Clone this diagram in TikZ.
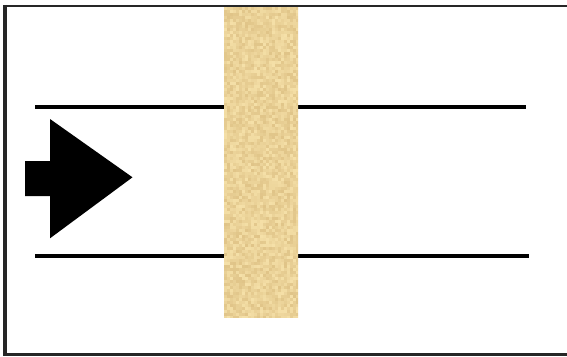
\documentclass[tikz,border=0pt]{standalone}
\begin{document}
\begin{tikzpicture}[x=1bp,y=-1bp,
  frame/.style={draw=black!85,line cap=butt},
  rail/.style={draw=black,line width=4bp},
  arrowshape/.style={fill=black}]
\definecolor{wlight}{RGB}{245,224,168}
\definecolor{wdark}{RGB}{224,196,136}
\useasboundingbox (0,0) rectangle (567,356);
\fill[white] (0,0) rectangle (567,356);
% frame
\draw[frame,line width=2bp] (3,5.8) -- (567,5.8);
\draw[frame,line width=3bp] (3,354.6) -- (567,354.6);
\draw[frame,line width=4bp] (5.3,4.8) -- (5.3,356);
% rails
\draw[rail] (35,107) -- (526,107);
\draw[rail] (35,255.7) -- (529,255.7);
% arrow
\fill[arrowshape] (25,161) -- (50,161) -- (50,119) -- (132.5,177.3) -- (50,238.3) -- (50,196) -- (25,196) -- cycle;
% wood bar
\begin{scope}
\clip (224,7) rectangle (298,317);
\fill[wlight!50!wdark] (224,7) rectangle (298,317);
\pgfmathsetseed{7}
\foreach \i in {0,...,24}{
  \foreach \j in {0,...,103}{
    \pgfmathsetmacro\p{int(100*rnd)}
    \fill[wlight!\p!wdark] (224+3*\i,7+3*\j) rectangle ++(3.1,3.1);
  }
}
\end{scope}
\end{tikzpicture}
\end{document}
